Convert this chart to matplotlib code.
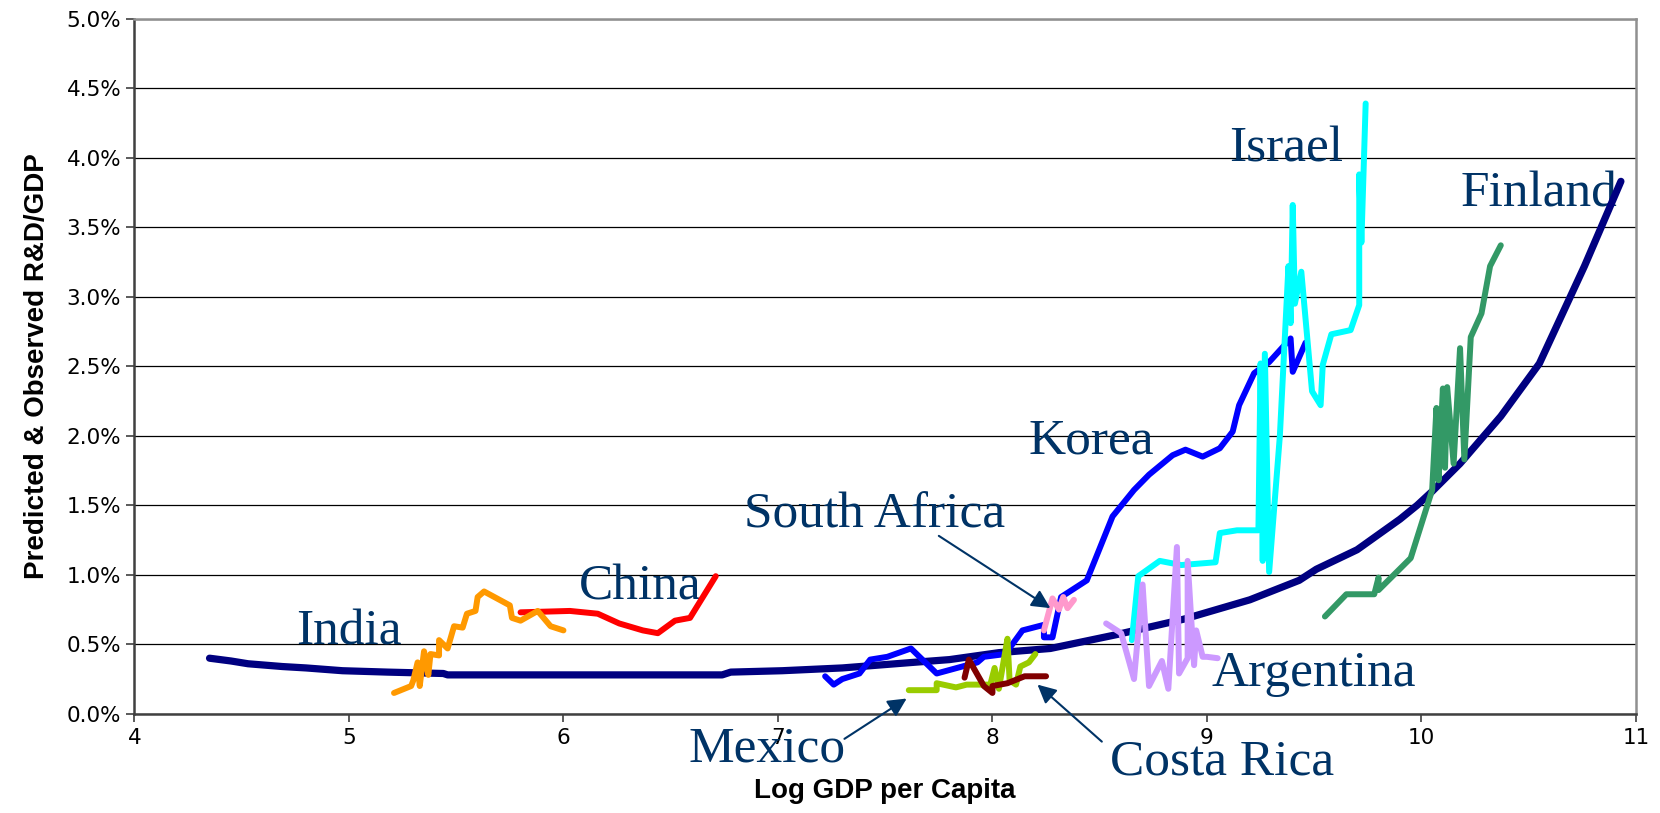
import matplotlib.pyplot as plt
from matplotlib.ticker import StrMethodFormatter

# Predicted curve (log GDP per capita vs predicted R&D/GDP, in %)
pred_x = [4.35, 4.45, 4.53, 4.69, 4.80, 4.97, 5.18, 5.44, 5.46, 6.0, 6.5, 6.74, 6.78,
          7.02, 7.3, 7.63, 7.8, 8.03, 8.27, 8.58, 8.89, 9.2, 9.43, 9.51, 9.70, 9.90,
          9.98, 10.05, 10.18, 10.37, 10.55, 10.76, 10.93]
pred_y = [0.40, 0.38, 0.36, 0.34, 0.33, 0.31, 0.30, 0.29, 0.28, 0.28, 0.28, 0.28, 0.30,
          0.31, 0.33, 0.37, 0.39, 0.44, 0.47, 0.57, 0.68, 0.82, 0.96, 1.04, 1.18, 1.40,
          1.50, 1.60, 1.80, 2.14, 2.52, 3.22, 3.83]

china_x = [5.80, 6.03, 6.16, 6.26, 6.37, 6.44, 6.52, 6.59, 6.65, 6.71]
china_y = [0.73, 0.74, 0.72, 0.65, 0.60, 0.58, 0.67, 0.69, 0.84, 0.99]

india_x = [5.21, 5.29, 5.30, 5.32, 5.33, 5.35, 5.37, 5.38, 5.42, 5.42, 5.46, 5.49, 5.53,
           5.55, 5.59, 5.60, 5.63, 5.75, 5.76, 5.80, 5.88, 5.94, 6.00]
india_y = [0.15, 0.20, 0.24, 0.37, 0.20, 0.45, 0.28, 0.43, 0.42, 0.53, 0.47, 0.63, 0.62,
           0.72, 0.74, 0.84, 0.88, 0.78, 0.69, 0.67, 0.74, 0.63, 0.60]

korea_x = [7.22, 7.26, 7.30, 7.38, 7.43, 7.51, 7.62, 7.74, 7.93, 7.96, 8.06, 8.14, 8.24,
           8.24, 8.28, 8.32, 8.44, 8.56, 8.66, 8.73, 8.84, 8.90, 8.98, 9.06, 9.12, 9.15,
           9.22, 9.29, 9.39, 9.40, 9.46]
korea_y = [0.27, 0.21, 0.25, 0.29, 0.39, 0.41, 0.47, 0.29, 0.37, 0.41, 0.43, 0.60, 0.64,
           0.55, 0.55, 0.84, 0.96, 1.42, 1.61, 1.72, 1.86, 1.90, 1.85, 1.91, 2.03, 2.22,
           2.45, 2.53, 2.70, 2.46, 2.67]

safrica_x = [8.24, 8.28, 8.31, 8.33, 8.35, 8.38]
safrica_y = [0.60, 0.83, 0.75, 0.84, 0.76, 0.82]

mexico_x = [7.61, 7.74, 7.74, 7.83, 7.88, 7.99, 8.01, 8.03, 8.05, 8.07, 8.08, 8.11, 8.13,
            8.17, 8.20]
mexico_y = [0.17, 0.17, 0.22, 0.19, 0.21, 0.21, 0.33, 0.18, 0.36, 0.54, 0.24, 0.21, 0.34,
            0.37, 0.43]

costa_x = [7.87, 7.89, 7.96, 8.00, 8.00, 8.07, 8.15, 8.25]
costa_y = [0.26, 0.39, 0.20, 0.15, 0.20, 0.22, 0.27, 0.27]

israel_x = [8.65, 8.68, 8.78, 8.88, 9.04, 9.06, 9.14, 9.24, 9.25, 9.26, 9.27, 9.29, 9.34,
            9.38, 9.39, 9.40, 9.41, 9.44, 9.49, 9.53, 9.54, 9.58, 9.67, 9.71, 9.71, 9.72,
            9.74]
israel_y = [0.53, 0.99, 1.10, 1.07, 1.09, 1.30, 1.32, 1.32, 2.52, 1.10, 2.59, 1.02, 2.00,
            3.22, 2.81, 3.66, 2.95, 3.18, 2.32, 2.22, 2.51, 2.73, 2.76, 2.94, 3.88, 3.39,
            4.39]

argentina_x = [8.53, 8.60, 8.66, 8.70, 8.73, 8.79, 8.82, 8.86, 8.87, 8.91, 8.91, 8.94,
               8.95, 8.98, 9.00, 9.05]
argentina_y = [0.65, 0.58, 0.25, 0.93, 0.20, 0.38, 0.18, 1.20, 0.29, 0.40, 1.10, 0.35,
               0.60, 0.41, 0.41, 0.40]

finland_x = [9.55, 9.65, 9.78, 9.80, 9.80, 9.95, 10.05, 10.07, 10.08, 10.10, 10.11, 10.12,
             10.15, 10.18, 10.20, 10.23, 10.28, 10.32, 10.37]
finland_y = [0.70, 0.86, 0.86, 0.98, 0.89, 1.12, 1.61, 2.20, 1.68, 2.34, 1.77, 2.35,
             1.80, 2.63, 1.83, 2.71, 2.88, 3.22, 3.37]

label_color = '#003366'
serif = 'Liberation Serif'

fig = plt.figure(figsize=(16.6, 8.13), dpi=100)
ax = fig.add_axes([0.081, 0.122, 0.9045, 0.855])

lw = 4.3
kw = dict(lw=lw, solid_capstyle='round', solid_joinstyle='round')
ax.plot(pred_x, pred_y, color='#000080', lw=5.2, solid_capstyle='round', zorder=3)
ax.plot(china_x, china_y, color='#FF0000', zorder=3, **kw)
ax.plot(india_x, india_y, color='#FF9900', zorder=3, **kw)
ax.plot(korea_x, korea_y, color='#0000FF', zorder=3, **kw)
ax.plot(safrica_x, safrica_y, color='#FF99CC', zorder=3, **kw)
ax.plot(mexico_x, mexico_y, color='#99CC00', zorder=3, **kw)
ax.plot(costa_x, costa_y, color='#800000', zorder=3, **kw)
ax.plot(israel_x, israel_y, color='#00FFFF', zorder=3, **kw)
ax.plot(argentina_x, argentina_y, color='#CC99FF', zorder=3, **kw)
ax.plot(finland_x, finland_y, color='#339966', zorder=3, **kw)

ax.set_xlim(4, 11)
ax.set_ylim(0, 5)
ax.set_xticks(range(4, 12))
ax.set_yticks([i * 0.5 for i in range(11)])
ax.yaxis.set_major_formatter(StrMethodFormatter('{x:.1f}%'))
ax.grid(axis='y', color='black', lw=0.9, zorder=1)
ax.set_axisbelow(True)
ax.tick_params(axis='both', direction='out', length=6, width=1.2, labelsize=15.5, color='#404040')
ax.tick_params(axis='x', pad=4)

for s in ['top', 'right']:
    ax.spines[s].set_color('#909090')
    ax.spines[s].set_linewidth(1.8)
for s in ['left', 'bottom']:
    ax.spines[s].set_color('#404040')
    ax.spines[s].set_linewidth(1.8)

ax.set_xlabel('Log GDP per Capita', fontsize=20, fontweight='bold', family='Liberation Sans', labelpad=22)
ax.set_ylabel('Predicted & Observed R&D/GDP', fontsize=20, fontweight='bold', family='Liberation Sans', labelpad=12)

# country labels
labels = [('India', 5.00, 0.50), ('China', 6.36, 0.82), ('Korea', 8.46, 1.87),
          ('South Africa', 7.45, 1.34), ('Israel', 9.37, 3.97), ('Finland', 10.55, 3.65),
          ('Argentina', 9.50, 0.20), ('Mexico', 6.95, -0.345), ('Costa Rica', 9.07, -0.44)]
for name, lx, ly in labels:
    ax.text(lx, ly, name, fontsize=37, family=serif, color=label_color,
            ha='center', va='baseline', clip_on=False, zorder=2)

arrow = dict(arrowstyle='-|>', color=label_color, lw=1.5, mutation_scale=28, shrinkA=0, shrinkB=0)
ax.annotate('', xy=(8.27, 0.76), xytext=(7.75, 1.28), arrowprops=arrow, annotation_clip=False)
ax.annotate('', xy=(7.60, 0.11), xytext=(7.31, -0.18), arrowprops=arrow, annotation_clip=False)
ax.annotate('', xy=(8.21, 0.21), xytext=(8.51, -0.20), arrowprops=arrow, annotation_clip=False)

plt.savefig('out.png', dpi=100)
